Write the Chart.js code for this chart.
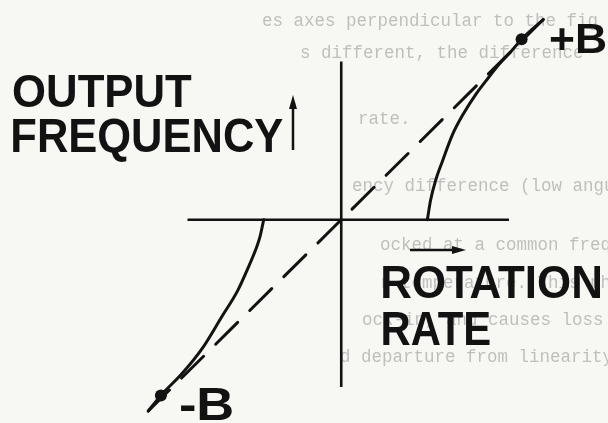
<!DOCTYPE html>
<html>
<head>
<meta charset="utf-8">
<script src="https://cdn.jsdelivr.net/npm/chart.js@4/dist/chart.umd.min.js"></script>
<style>
  html, body { margin: 0; padding: 0; background: #f7f7f4; }
  canvas { display: block; }
</style>
</head>
<body>
<canvas id="c" width="608" height="423"></canvas>
<script>
// Ring-laser gyro: output frequency versus rotation rate, with the lock-in band.
// Rates and frequencies are in the same units; the lock-in points sit at ±B = ±4.

const B = 4.0;
const axisRate = [-3.41, 3.72];          // extent of the rotation-rate axis
const axisFreq = [-3.74, 3.54];          // extent of the output-frequency axis
const idealRate = [-4.28, 4.48];         // ideal response: output = rate (dashed)

// Measured response above the lock-in threshold (positive rates)
const upperRate = [1.91, 1.98, 2.09, 2.24, 2.46, 2.72, 3.00, 3.28, 3.50, 3.76, 4.00, 4.48];
const upperFreq = [0.00, 0.43, 0.87, 1.30, 1.89, 2.39, 2.83, 3.20, 3.48, 3.76, 4.04, 4.48];

// Measured response above the lock-in threshold (negative rates)
const lowerRate = [-4.28, -4.00, -3.52, -3.09, -2.65, -2.30, -2.09, -1.89, -1.80, -1.72];
const lowerFreq = [-4.28, -3.93, -3.43, -2.89, -2.17, -1.59, -1.13, -0.65, -0.37, 0.00];

// Marked operating points
const markRate = [B, -B];
const markFreq = [4.04, -3.93];
const markLabels = ['+B', '-B'];

// Axis titles
const freqTitle = ['OUTPUT', 'FREQUENCY'];
const rateTitle = ['ROTATION', 'RATE'];

// Page text printed behind the figure
const pageLines = [
  'es axes perpendicular to the fig',
  's different, the difference',
  'rate.',
  'ency difference (low angular rate)',
  'ocked at a common frequency because',
  'r temperature. This phenomeno',
  'ock-in, and causes loss of informat',
  'd departure from linearity outside'
];

const INK = '#121212';
const pts = (xs, ys) => xs.map((x, i) => ({ x, y: ys[i] }));

// Draw text so that its capitals fill a given box
function boxText(ctx, txt, left, capTop, capBottom, right) {
  ctx.font = 'bold 100px "Liberation Sans", Arial, sans-serif';
  const cap = ctx.measureText('H').actualBoundingBoxAscent;
  const size = 100 * (capBottom - capTop) / cap;
  ctx.font = 'bold ' + size + 'px "Liberation Sans", Arial, sans-serif';
  const m = ctx.measureText(txt);
  const w = m.actualBoundingBoxRight + m.actualBoundingBoxLeft;
  const sx = (right - left) / w;
  ctx.save();
  ctx.translate(left + m.actualBoundingBoxLeft * sx, capBottom);
  ctx.scale(sx, 1);
  ctx.fillStyle = INK;
  ctx.textAlign = 'left';
  ctx.textBaseline = 'alphabetic';
  ctx.fillText(txt, 0, 0);
  ctx.restore();
}

const pagePos = [[262, 26], [300, 58], [358, 124], [352, 191], [380, 250], [380, 288], [362, 325], [340, 362]];

const pagePlugin = {
  id: 'page',
  beforeDraw(chart) {
    const ctx = chart.ctx;
    ctx.save();
    ctx.fillStyle = '#f7f7f4';
    ctx.fillRect(0, 0, chart.width, chart.height);
    ctx.font = '17.5px "Liberation Mono", "DejaVu Sans Mono", monospace';
    ctx.fillStyle = 'rgba(60,60,60,0.3)';
    ctx.textBaseline = 'alphabetic';
    pageLines.forEach((t, i) => ctx.fillText(t, pagePos[i][0], pagePos[i][1]));
    ctx.restore();
  },
  afterDatasetsDraw(chart) {
    const ctx = chart.ctx;
    ctx.save();
    boxText(ctx, freqTitle[0], 13, 74, 107, 192);
    boxText(ctx, freqTitle[1], 13, 118, 152, 283);
    boxText(ctx, rateTitle[0], 383, 265, 298, 600);
    boxText(ctx, rateTitle[1], 383, 311, 345, 490);
    boxText(ctx, markLabels[0], 550, 23, 53, 605);
    boxText(ctx, markLabels[1], 180, 387, 420, 232);

    // direction arrows beside the axis titles
    ctx.strokeStyle = INK;
    ctx.fillStyle = INK;
    ctx.lineWidth = 2.5;
    ctx.beginPath(); ctx.moveTo(293, 150); ctx.lineTo(293, 106); ctx.stroke();
    ctx.beginPath(); ctx.moveTo(293, 95); ctx.lineTo(297, 109); ctx.lineTo(289, 109); ctx.closePath(); ctx.fill();
    ctx.beginPath(); ctx.moveTo(410, 250); ctx.lineTo(455, 250); ctx.stroke();
    ctx.beginPath(); ctx.moveTo(466, 250); ctx.lineTo(452, 246); ctx.lineTo(452, 254); ctx.closePath(); ctx.fill();
    ctx.restore();
  }
};

new Chart(document.getElementById('c'), {
  type: 'scatter',
  data: {
    datasets: [
      { data: pts(axisRate, [0, 0]), showLine: true, borderColor: INK, borderWidth: 2.6, pointRadius: 0 },
      { data: pts([0, 0], axisFreq), showLine: true, borderColor: INK, borderWidth: 2.6, pointRadius: 0 },
      { data: pts(idealRate, idealRate), showLine: true, borderColor: INK, borderWidth: 3,
        borderDash: [31, 17], borderDashOffset: 1.1, borderCapStyle: 'round', pointRadius: 0 },
      { data: pts(upperRate, upperFreq), showLine: true, borderColor: INK, borderWidth: 3,
        cubicInterpolationMode: 'monotone', pointRadius: 0, borderCapStyle: 'round' },
      { data: pts(lowerRate, lowerFreq), showLine: true, borderColor: INK, borderWidth: 3,
        cubicInterpolationMode: 'monotone', pointRadius: 0, borderCapStyle: 'round' },
      { data: pts(markRate, markFreq), showLine: false, pointRadius: 6,
        pointBackgroundColor: INK, pointBorderColor: INK, pointBorderWidth: 0 }
    ]
  },
  options: {
    responsive: false,
    devicePixelRatio: 1,
    animation: false,
    layout: { padding: 0 },
    plugins: { legend: { display: false }, tooltip: { enabled: false } },
    scales: {
      x: { display: false, min: -7.435, max: 5.783 },
      y: { display: false, min: -4.413, max: 4.783 }
    }
  },
  plugins: [pagePlugin]
});
</script>
</body>
</html>
